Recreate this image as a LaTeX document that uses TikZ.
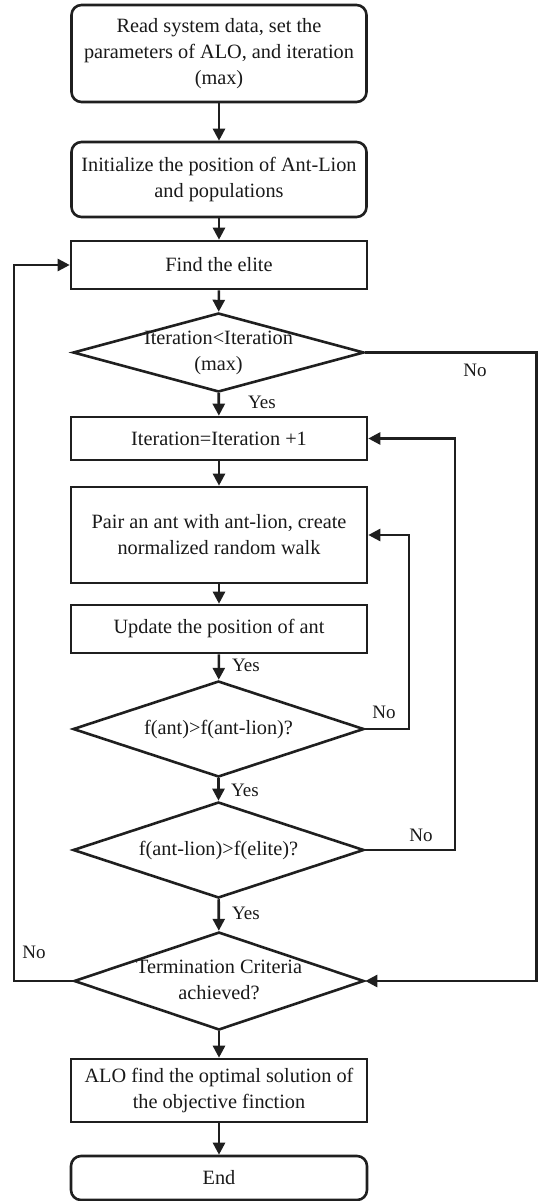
\documentclass[tikz,border=0pt]{standalone}
\usepackage{fontspec}
\setmainfont{Liberation Serif}
\usetikzlibrary{shapes.geometric,arrows.meta,calc}
\newcommand{\dtxt}[1]{\makebox[0pt]{\raisebox{-0.25em}[0pt][0pt]{\begin{tabular}{@{}c@{}}#1\end{tabular}}}}
\begin{document}
\begin{tikzpicture}[x=1pt,y=-1pt,
  line width=2.6pt, draw=black!88,
  every node/.style={font=\fontsize{20.3}{26}\selectfont, text=black!90},
  rbox/.style={draw, rounded corners=10pt, minimum width=295pt, inner sep=2pt, align=center},
  pbox/.style={draw, minimum width=296pt, inner sep=2pt, align=center},
  dec/.style={draw, diamond, inner sep=0pt, minimum width=291pt},
  lab/.style={font=\fontsize{19}{22}\selectfont, inner sep=0pt},
  arr/.style={-{Triangle[length=12pt,width=12pt]}}]
\useasboundingbox (0,0) rectangle (538,1201);
\node[rbox, minimum height=97pt] (b1) at (219,53.5) {Read system data, set the\\parameters of ALO, and iteration\\(max)};
\node[rbox, minimum height=75pt] (b2) at (219,179.5) {Initialize the position of Ant-Lion\\and populations};
\node[pbox, minimum height=48pt] (b3) at (219,265) {Find the elite};
\node[dec, minimum height=79pt] (d1) at (218.5,352.5) {\dtxt{Iteration<Iteration\\(max)}};
\node[pbox, minimum height=43pt] (b4) at (219,438.5) {Iteration=Iteration +1};
\node[pbox, minimum height=96pt] (b5) at (219,535) {Pair an ant with ant-lion, create\\normalized random walk};
\node[pbox, minimum height=48pt] (b6) at (219,629) {Update the position of ant};
\node[dec, minimum height=96pt] (d2) at (218.5,729) {\dtxt{f(ant)>f(ant-lion)?}};
\node[dec, minimum height=96pt] (d3) at (218.5,850) {\dtxt{f(ant-lion)>f(elite)?}};
\node[dec, minimum height=98pt, minimum width=290pt] (d4) at (219,981) {\dtxt{Termination Criteria\\achieved?}};
\node[pbox, minimum height=63pt] (b7) at (219,1090.5) {ALO find the optimal solution of\\the objective finction};
\node[rbox, minimum height=44pt, minimum width=296pt] (b8) at (219,1178) {End};

\coordinate (rc) at (536.5,352.5);
\coordinate (lc) at (14,981);
\coordinate (c2) at (409,729);
\coordinate (c3) at (455,850);

\draw[arr] (b1) -- (b2);
\draw[arr] (b2) -- (b3);
\draw[arr] (b3) -- (d1);
\draw[arr] (d1) -- (b4);
\draw[arr] (b4) -- (b5);
\draw[arr] (b5) -- (b6);
\draw[arr] (b6) -- (d2);
\draw[arr] (d2) -- (d3);
\draw[arr] (d3) -- (d4);
\draw[arr] (d4) -- (b7);
\draw[arr] (b7) -- (b8);
\draw[arr] (d2.east) -- (c2) |- (b5.east);
\draw[arr] (d3.east) -- (c3) |- (b4.east);
\draw[arr] (d1.east) -- (rc) |- (d4.east);
\draw[arr] (d4.west) -- (lc) |- (b3.west);

\node[lab] (y1) at (262,402) {Yes};
\node[lab] (n1) at (475,370) {No};
\node[lab] (y2) at (246,665) {Yes};
\node[lab] (n2) at (384,712) {No};
\node[lab] (y3) at (245,790) {Yes};
\node[lab] (n3) at (421,835) {No};
\node[lab] (y4) at (246,913) {Yes};
\node[lab] (n4) at (34,952) {No};
\end{tikzpicture}
\end{document}
